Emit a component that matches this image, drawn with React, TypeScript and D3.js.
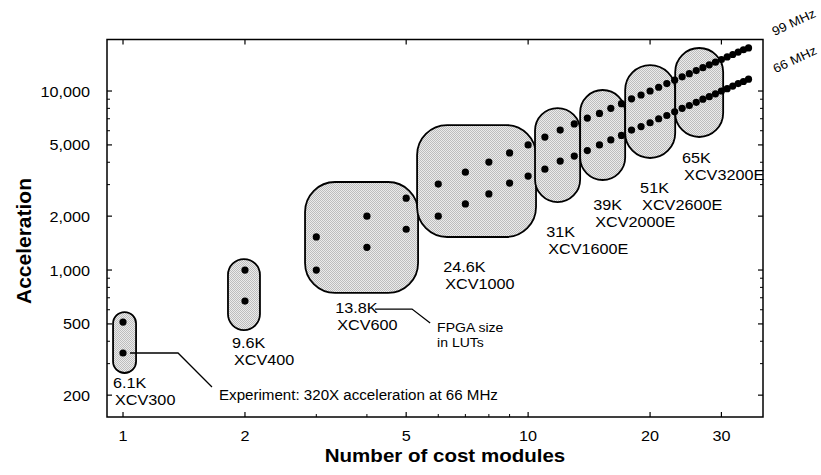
import React from 'react';
import * as d3 from 'd3';

// number of cost modules on the board
const modules = [1, 2, 3, 4, 5, 6, 7, 8, 9, 10, 11, 12, 13, 14, 15, 16, 17, 18, 19, 20,
  21, 22, 23, 24, 25, 26, 27, 28, 29, 30, 31, 32, 33, 34, 35];

// acceleration
const accel99 = [512, 1000, 1530, 2000, 2520, 3020, 3520, 4010, 4510, 5000, 5530, 6050, 6550, 7060,
  7500, 8000, 8500, 9050, 9500, 10000, 10500, 11000, 11500, 12000, 12500, 13000, 13500, 14000,
  14500, 15000, 15500, 16000, 16500, 17000, 17400];
const accel66 = [344, 671, 1000, 1340, 1690, 2000, 2340, 2660, 3060, 3350, 3660, 4060, 4330, 4650,
  5000, 5330, 5650, 6050, 6330, 6650, 7000, 7300, 7650, 8000, 8300, 8650, 9000, 9300, 9650,
  10000, 10300, 10650, 11000, 11300, 11650];

// FPGA groups: name, size and the region (in data units) each one covers
const fpgaLUTs = ['6.1K', '9.6K', '13.8K', '24.6K', '31K', '39K', '51K', '65K'];
const fpgaParts = ['XCV300', 'XCV400', 'XCV600', 'XCV1000', 'XCV1600E', 'XCV2000E', 'XCV2600E', 'XCV3200E'];
const blobModules = [[0.945, 1.077], [1.816, 2.178], [2.814, 5.35], [5.32, 10.46], [10.4, 13.44],
  [13.44, 17.36], [17.36, 23.07], [23.07, 30.3]];
const blobAccel = [[266, 582], [462, 1152], [745, 3103], [1529, 6457], [2398, 8035],
  [3184, 10130], [4224, 13970], [5536, 17390]];
const labelModules = [0.945, 1.858, 3.34, 6.17, 11.08, 14.47, 18.9, 23.99];
const labelAccel = [219, 366, 575, 975, 1529, 2164, 2693, 3960];

// axes
const xMajor = [1, 2, 5, 10, 20, 30];
const xMinor = [3, 4, 6, 7, 8, 9];
const yMajor = [200, 500, 1000, 2000, 5000, 10000];
const yMinor = [300, 400, 600, 700, 800, 900, 3000, 4000, 6000, 7000, 8000, 9000];

// annotations
const expLeaderModules = [1.367, 1.658];
const expLeaderAccel = [344, 222];
const expText = 'Experiment: 320X acceleration at 66 MHz';
const expAt = [1.726, 188];
const lutLeaderModules = [4.19, 5.17, 5.73];
const lutLeaderAccel = [605, 605, 506];
const lutText = ['FPGA size', 'in LUTs'];
const lutAt = [5.96, 451];

const FONT = "'Liberation Sans', Arial, Helvetica, sans-serif";

function Txt({ x, y, children, size = 14, anchor = 'start', weight = 'normal', rotate = 0, sx = 1.08 }: any) {
  return (
    <text
      transform={`translate(${x},${y}) rotate(${rotate}) scale(${sx},1)`}
      fontSize={size}
      textAnchor={anchor}
      fontWeight={weight}
      fontFamily={FONT}
      fill="#000"
    >
      {children}
    </text>
  );
}

export default function App() {
  const width = 821;
  const height = 475;
  const left = 107, right = 763, top = 39.5, bottom = 417;

  const x = d3.scaleLog().domain([0.913, 38]).range([left, right]);
  const y = d3.scaleLog().domain([151, 19400]).range([bottom, top]);
  const fmt = d3.format(',');

  const expLine = d3.line()([
    [x(modules[0]) + 7, y(accel66[0])],
    ...expLeaderModules.map((m, i) => [x(m), y(expLeaderAccel[i])] as [number, number]),
  ]);
  const lutLine = d3.line()(lutLeaderModules.map((m, i) => [x(m), y(lutLeaderAccel[i])] as [number, number]));

  const last = modules.length - 1;

  return (
    <div style={{ position: 'absolute', left: 0, top: 0 }}>
      <svg width={width} height={height} style={{ display: 'block', background: '#fff' }}>
        <defs>
          <pattern id="halftone" width="2" height="2" patternUnits="userSpaceOnUse">
            <rect width="2" height="2" fill="#ebebeb" />
            <rect width="1" height="1" fill="#bdbdbd" />
            <rect x="1" y="1" width="1" height="1" fill="#bdbdbd" />
          </pattern>
        </defs>

        {/* FPGA regions */}
        {fpgaParts.map((p, i) => {
          const x0 = x(blobModules[i][0]);
          const x1 = x(blobModules[i][1]);
          const y0 = y(blobAccel[i][1]);
          const y1 = y(blobAccel[i][0]);
          const w = x1 - x0, h = y1 - y0;
          const r = Math.min(w / 2, h / 2, 30);
          return (
            <rect key={p} x={x0} y={y0} width={w} height={h} rx={r} ry={r}
              fill="url(#halftone)" stroke="#000" strokeWidth={1.8} />
          );
        })}

        {/* points */}
        {modules.map((m, i) => (
          <g key={m}>
            <circle cx={x(m)} cy={y(accel99[i])} r={3.6} fill="#000" />
            <circle cx={x(m)} cy={y(accel66[i])} r={3.6} fill="#000" />
          </g>
        ))}

        {/* FPGA labels */}
        {fpgaParts.map((p, i) => (
          <g key={p + 'l'}>
            <Txt x={x(labelModules[i])} y={y(labelAccel[i])} size={15}>{fpgaLUTs[i]}</Txt>
            <Txt x={x(labelModules[i]) + 2} y={y(labelAccel[i]) + 17} size={15}>{p}</Txt>
          </g>
        ))}

        {/* annotations */}
        <path d={expLine || ''} fill="none" stroke="#000" strokeWidth={1.3} />
        <Txt x={x(expAt[0])} y={y(expAt[1])} size={14}>{expText}</Txt>
        <path d={lutLine || ''} fill="none" stroke="#000" strokeWidth={1.3} />
        <Txt x={x(lutAt[0])} y={y(lutAt[1])} size={13}>{lutText[0]}</Txt>
        <Txt x={x(lutAt[0])} y={y(lutAt[1]) + 15} size={13}>{lutText[1]}</Txt>

        <Txt x={x(modules[last]) + 26} y={y(accel99[last]) - 12} size={12.5} rotate={-25}>99 MHz</Txt>
        <Txt x={x(modules[last]) + 27} y={y(accel66[last]) - 6} size={12.5} rotate={-25}>66 MHz</Txt>

        {/* frame */}
        <rect x={left} y={top} width={right - left} height={bottom - top} fill="none" stroke="#000" strokeWidth={1.5} />

        {/* x ticks */}
        {xMajor.map(v => (
          <g key={'xm' + v}>
            <line x1={x(v)} x2={x(v)} y1={bottom} y2={bottom - 5} stroke="#000" strokeWidth={1.2} />
            <line x1={x(v)} x2={x(v)} y1={top} y2={top + 5} stroke="#000" strokeWidth={1.2} />
            <Txt x={x(v)} y={441} anchor="middle" size={15}>{v}</Txt>
          </g>
        ))}
        {xMinor.map(v => (
          <line key={'xn' + v} x1={x(v)} x2={x(v)} y1={bottom} y2={bottom - 3} stroke="#000" strokeWidth={1} />
        ))}

        {/* y ticks */}
        {yMajor.map(v => (
          <g key={'ym' + v}>
            <line x1={left} x2={left + 5} y1={y(v)} y2={y(v)} stroke="#000" strokeWidth={1.2} />
            <line x1={right} x2={right - 5} y1={y(v)} y2={y(v)} stroke="#000" strokeWidth={1.2} />
            <Txt x={90} y={y(v) + 5.5} anchor="end" size={15}>{fmt(v)}</Txt>
          </g>
        ))}
        {yMinor.map(v => (
          <g key={'yn' + v}>
            <line x1={left} x2={left + 3} y1={y(v)} y2={y(v)} stroke="#000" strokeWidth={1} />
            <line x1={right} x2={right - 3} y1={y(v)} y2={y(v)} stroke="#000" strokeWidth={1} />
          </g>
        ))}

        {/* axis titles */}
        <Txt x={445} y={462} size={19} weight="bold" anchor="middle">Number of cost modules</Txt>
        <Txt x={31} y={241} size={21} weight="bold" anchor="middle" rotate={-90} sx={1}>Acceleration</Txt>
      </svg>
    </div>
  );
}
